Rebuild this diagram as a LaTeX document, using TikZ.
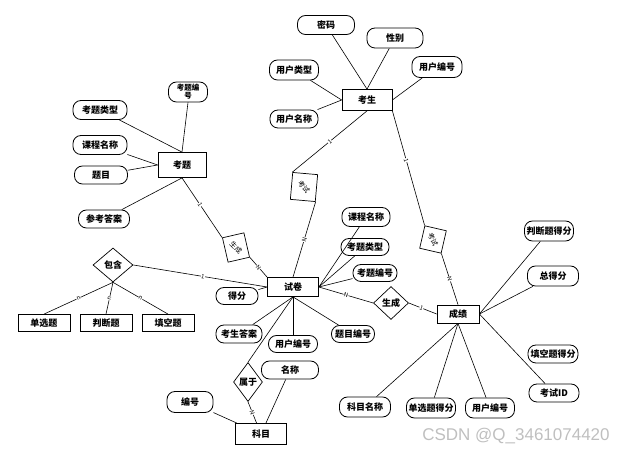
\documentclass[tikz,border=0pt]{standalone}
\usepackage{graphicx}
\usepackage{fontspec}
\setmainfont{Noto Sans CJK SC}
\newfontfamily\wmfont{Liberation Sans}
\usepackage{tikz}
\usetikzlibrary{shapes.geometric, positioning}
\tikzstyle{entity} = [rectangle, draw=black, line width=0.8pt, minimum width=50pt, minimum height=20pt, inner sep=1pt, font=\fontsize{9}{10}\selectfont\bfseries]
\tikzstyle{attr} = [rectangle, rounded corners=8pt, draw=black, line width=0.8pt, minimum width=48pt, minimum height=18pt, inner sep=1pt, font=\fontsize{9}{10}\selectfont\bfseries]
\tikzstyle{rel} = [diamond, draw=black, line width=0.7pt, inner sep=0pt, font=\fontsize{9}{10}\selectfont\bfseries]
\tikzstyle{relbox} = [rectangle, draw=black, line width=0.7pt, inner sep=0pt, font=\fontsize{7}{8}\selectfont]
\tikzstyle{link} = [line width=0.6pt]
\tikzstyle{card} = [sloped, fill=white, inner sep=0.3pt, font=\fontsize{6}{6}\selectfont]

\begin{document}
\begin{tikzpicture}[x=1pt, y=-1pt, node distance=62pt]
\useasboundingbox (0,0) rectangle (630,454);
% 考题
\node (kaoti) [entity, minimum width=48pt, minimum height=25pt] at (182,165) {考题};
\node (ktbh) [attr, minimum width=39pt, minimum height=20pt, align=center, font=\fontsize{7.5}{8}\selectfont\bfseries] at (188,92) {考题编\\号};
\node (ktlx) [attr, minimum width=54pt, minimum height=19pt] at (100,110) {考题类型};
\node (kcmc) [attr, minimum width=54pt, minimum height=19pt] at (100,145) {课程名称};
\node (timu) [attr, minimum width=53pt] at (101,175) {题目};
\node (ckda) [attr, minimum width=51pt] at (104,219) {参考答案};

% 考生
\node (kaosheng) [entity, minimum height=21pt] at (367,100) {考生};
\node (mima) [attr, minimum width=57pt, minimum height=19pt] at (326,25) {密码};
\node (xingbie) [attr, minimum width=56pt, minimum height=20pt] at (395,38) {性别};
\node (yhlx) [attr, minimum width=49pt, minimum height=20pt] at (294,70) {用户类型};
\node (yhbh) [attr, minimum width=50pt, minimum height=21pt] at (437,67) {用户编号};
\node (yhmc) [attr] at (294,119) {用户名称};

% 试卷
\node (shijuan) [entity, minimum width=51pt, minimum height=19pt] at (293,287) {试卷};
\node (kcmc2) [attr, minimum height=19pt] at (366,217) {课程名称};
\node (ktlx2) [attr, minimum height=17pt] at (365,247) {考题类型};
\node (ktbh2) [attr, minimum width=44pt, minimum height=17pt] at (375,273) {考题编号};
\node (defen) [attr, minimum width=42pt, minimum height=17pt] at (237,296) {得分};
\node (kSda) [attr, minimum width=46pt] at (239,334) {考生答案};
\node (yhbh2) [attr, minimum width=49pt, minimum height=17pt] at (293,344) {用户编号};
\node (tmbh) [attr, minimum width=43pt, minimum height=17pt] at (353,334) {题目编号};

% 成绩
\node (chengji) [entity, minimum width=42pt, minimum height=18pt] at (458,314) {成绩};
\node (pdtdf) [attr, minimum width=49pt, minimum height=20pt] at (549,231) {判断题得分};
\node (zdf) [attr, minimum width=51pt, minimum height=20pt] at (553,276) {总得分};
\node (tktdf) [attr, minimum width=50pt] at (553,354) {填空题得分};
\node (ksid) [attr, minimum width=50pt] at (554,393) {考试ID};
\node (yhbh3) [attr, minimum width=49pt, minimum height=20pt] at (490,408) {用户编号};
\node (dxtdf) [attr, minimum width=49pt, minimum height=20pt] at (431,408) {单选题得分};
\node (kmmc) [attr, minimum width=51pt, minimum height=20pt] at (365,407) {科目名称};

% 科目
\node (kemu) [entity, minimum width=51pt, minimum height=21pt] at (261,434) {科目};
\node (mingcheng) [attr, minimum width=57pt] at (290,370) {名称};
\node (bianhao) [attr, minimum width=46pt, minimum height=21pt] at (190,402) {编号};

% 题型
\node (baohan) [rel, minimum width=40pt, minimum height=34pt] at (113,265) {包含};
\node (danxuan) [entity, minimum width=52pt, minimum height=17pt] at (44,323) {单选题};
\node (panduan) [entity, minimum width=52pt, minimum height=17pt, right of=danxuan] {判断题};
\node (tiankong) [entity, minimum width=52pt, minimum height=17pt, right of=panduan] {填空题};

% 联系
\node (sc1) [relbox, rotate=13, minimum width=22pt, minimum height=25pt] at (236,247.5) {\rotatebox{-58}{生成}};
\node (ks1) [relbox, rotate=-5, minimum width=25pt, minimum height=27pt] at (304,187) {\rotatebox{-45}{考试}};
\node (ks2) [relbox, rotate=-13, minimum width=22pt, minimum height=23pt] at (433,239.5) {\rotatebox{-52}{考试}};
\node (sc2) [rel, minimum width=35pt, minimum height=33pt] at (391,303) {生成};
\node (shuyu) [rel, minimum width=29pt, minimum height=39pt] at (248,382) {属于};

\node (wm) [font=\wmfont\fontsize{17}{17}\selectfont, text=black!25] at (516,436) {CSDN @Q\_3461074420};

\draw [link] (ktlx) -- (kaoti.north);
\draw [link] (ktbh.south) -- (kaoti.north);
\draw [link] (kcmc) -- (kaoti.west);
\draw [link] (timu) -- (kaoti.west);
\draw [link] (ckda) -- (kaoti.south);
\draw [link] (kaoti.south) -- node[card, pos=0.45]{1} (sc1.north west);
\draw [link] (sc1.south east) -- node[card]{N} (shijuan.north west);

\draw [link] (mima) -- (kaosheng.north);
\draw [link] (xingbie) -- (kaosheng.north);
\draw [link] (yhlx) -- (kaosheng.west);
\draw [link] (yhmc) -- (kaosheng.west);
\draw [link] (yhbh) -- (kaosheng.east);
\draw [link] (kaosheng.south) -- node[card]{1} (ks1.north west);
\draw [link] (ks1.south east) -- node[card]{N} (shijuan.north);
\draw [link] (kaosheng.south east) -- node[card, pos=0.43]{1} (ks2.north west);
\draw [link] (ks2.south east) -- node[card]{N} (chengji.north);

\draw [link] (kcmc2) -- (shijuan.east);
\draw [link] (ktlx2) -- (shijuan.east);
\draw [link] (ktbh2) -- (shijuan.east);
\draw [link] (tmbh) -- (shijuan.south);
\draw [link] (yhbh2) -- (shijuan.south);
\draw [link] (kSda) -- (shijuan.south);
\draw [link] (defen) -- (shijuan.west);
\draw [link] (baohan.east) -- node[card, pos=0.52]{1} (shijuan.west);
\draw [link] (shijuan.east) -- node[card]{N} (sc2.west);
\draw [link] (sc2.east) -- node[card, pos=0.45]{1} (chengji.west);
\draw [link] (shijuan.south) -- (shuyu.north);

\draw [link] (pdtdf) -- (chengji.east);
\draw [link] (zdf) -- (chengji.east);
\draw [link] (ksid) -- (chengji.east);
\draw [link] (yhbh3) -- (chengji.south);
\draw [link] (dxtdf) -- (chengji.south);
\draw [link] (kmmc) -- (chengji.south);

\draw [link] (shuyu.south) -- node[card]{N} (kemu);
\draw [link] (mingcheng) -- (kemu);
\draw [link] (bianhao) -- (kemu);

\draw [link] (baohan.south) -- node[card]{n} (danxuan.north);
\draw [link] (baohan.south) -- node[card]{n} (panduan.north);
\draw [link] (baohan.south) -- node[card]{n} (tiankong.north);
\end{tikzpicture}
\end{document}
